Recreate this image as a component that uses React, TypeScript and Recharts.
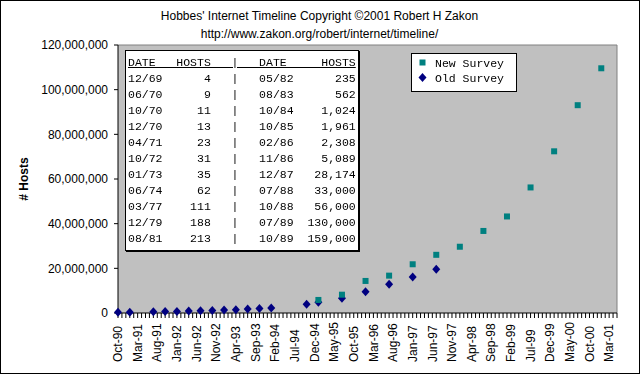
import React from 'react';
import {
  ScatterChart,
  Scatter,
  XAxis,
  YAxis,
  CartesianGrid,
  ReferenceLine,
  Legend,
} from 'recharts';

// hosts counted by the old and new ISC survey methods
const oldDates = [
  'Oct-90', 'Jan-91', 'Jul-91', 'Oct-91', 'Jan-92', 'Apr-92', 'Jul-92', 'Oct-92', 'Jan-93', 'Apr-93',
  'Jul-93', 'Oct-93', 'Jan-94', 'Oct-94', 'Jan-95', 'Jul-95', 'Jan-96', 'Jul-96', 'Jan-97', 'Jul-97',
];
const oldHosts = [
  313000, 376000, 535000, 617000, 727000, 890000, 992000, 1136000, 1313000, 1486000,
  1776000, 2056000, 2217000, 3864000, 4852000, 6642000, 9472000, 12881000, 16146000, 19540000,
];
const newDates = [
  'Jan-95', 'Jul-95', 'Jan-96', 'Jul-96', 'Jan-97', 'Jul-97', 'Jan-98', 'Jul-98', 'Jan-99', 'Jul-99',
  'Jan-00', 'Jul-00', 'Jan-01',
];
const newHosts = [
  5846000, 8200000, 14352000, 16729000, 21819000, 26053000, 29670000, 36739000, 43230000, 56218000,
  72398092, 93047785, 109574429,
];

const xTickLabels = [
  'Oct-90', 'Mar-91', 'Aug-91', 'Jan-92', 'Jun-92', 'Nov-92', 'Apr-93', 'Sep-93', 'Feb-94', 'Jul-94',
  'Dec-94', 'May-95', 'Oct-95', 'Mar-96', 'Aug-96', 'Jan-97', 'Jun-97', 'Nov-97', 'Apr-98', 'Sep-98',
  'Feb-99', 'Jul-99', 'Dec-99', 'May-00', 'Oct-00', 'Mar-01',
];
const yTicks = [0, 20000000, 40000000, 60000000, 80000000, 100000000, 120000000];

// inset table of early host counts
const earlyDates = ['12/69', '06/70', '10/70', '12/70', '04/71', '10/72', '01/73', '06/74', '03/77', '12/79', '08/81'];
const earlyHosts = [4, 9, 11, 13, 23, 31, 35, 62, 111, 188, 213];
const laterDates = ['05/82', '08/83', '10/84', '10/85', '02/86', '11/86', '12/87', '07/88', '10/88', '07/89', '10/89'];
const laterHosts = [235, 562, 1024, 1961, 2308, 5089, 28174, 33000, 56000, 130000, 159000];

const legendOrder = ['New Survey', 'Old Survey'];

const MONTHS = ['Jan', 'Feb', 'Mar', 'Apr', 'May', 'Jun', 'Jul', 'Aug', 'Sep', 'Oct', 'Nov', 'Dec'];
// months since Oct-90
const monthIndex = (label: string) => {
  const [m, yy] = label.split('-');
  const n = Number(yy);
  const year = n >= 50 ? 1900 + n : 2000 + n;
  return (year - 1990) * 12 + MONTHS.indexOf(m) - 9;
};

const X_MAX = 127;
const monthTicks = Array.from({ length: X_MAX + 1 }, (_, i) => i);
const labelAt: Record<number, string> = {};
xTickLabels.forEach((l) => (labelAt[monthIndex(l)] = l));

const oldData = oldDates.map((d, i) => ({ x: monthIndex(d), y: oldHosts[i] }));
const newData = newDates.map((d, i) => ({ x: monthIndex(d), y: newHosts[i] }));

const SANS = "'Liberation Sans', Arial, sans-serif";
const MONO = "'Liberation Mono', 'Courier New', monospace";
const TEAL = '#008080';
const NAVY = '#000080';

const fmt = (v: number) => v.toLocaleString('en-US');

const tableLines = [
  'DATE   HOSTS   |   DATE     HOSTS',
  ...earlyDates.map(
    (d, i) =>
      d + String(earlyHosts[i]).padStart(7) + '   |   ' + laterDates[i] + fmt(laterHosts[i]).padStart(9)
  ),
];

function Square({ cx, cy }: any) {
  return <rect x={cx - 3} y={cy - 3} width={6} height={6} fill={TEAL} />;
}

function Diamond({ cx, cy }: any) {
  return <polygon points={`${cx},${cy - 4.5} ${cx + 4},${cy} ${cx},${cy + 4.5} ${cx - 4},${cy}`} fill={NAVY} />;
}

function XTick({ x, y, payload }: any) {
  const label = labelAt[payload.value];
  if (!label) return null;
  const by = 362;
  return (
    <text
      x={x}
      y={by}
      dy="0.35em"
      transform={`rotate(-90, ${x}, ${by})`}
      textAnchor="start"
      fontSize={12}
      fontFamily={SANS}
      fill="#000"
    >
      {label}
    </text>
  );
}

function LegendBox({ payload }: any) {
  const items = [...(payload || [])].sort(
    (a: any, b: any) => legendOrder.indexOf(a.value) - legendOrder.indexOf(b.value)
  );
  return (
    <div
      style={{
        width: 106,
        height: 39,
        boxSizing: 'border-box',
        border: '1px solid #000',
        background: '#fff',
        paddingTop: 2,
        fontFamily: MONO,
        fontSize: 11.5,
        color: '#000',
      }}
    >
      {items.map((it: any) => (
        <div key={it.value} style={{ position: 'relative', height: 15, lineHeight: '15px', paddingLeft: 23, whiteSpace: 'pre' }}>
          <svg width={9} height={9} style={{ position: 'absolute', left: 6, top: 2.1 }}>
            {it.value === 'New Survey' ? (
              <rect x={1.5} y={1.5} width={6} height={6} fill={TEAL} />
            ) : (
              <polygon points="4.5,0 8.5,4.5 4.5,9 0.5,4.5" fill={NAVY} />
            )}
          </svg>
          <span style={{ display: 'inline-block', filter: 'grayscale(1)' }}>{it.value}</span>
        </div>
      ))}
    </div>
  );
}

export default function App() {
  return (
    <div style={{ position: 'absolute', left: 0, top: 0, width: 641, height: 375, background: '#fff', fontFamily: SANS }}>
      <ScatterChart width={641} height={375} margin={{ top: 45, right: 24, bottom: 0, left: 0 }}>
        <CartesianGrid fill="#C0C0C0" horizontal={false} vertical={false} />
        <XAxis
          type="number"
          dataKey="x"
          domain={[0, X_MAX]}
          ticks={monthTicks}
          interval={0}
          height={62}
          tickSize={5}
          axisLine={{ stroke: '#000' }}
          tickLine={{ stroke: '#000' }}
          tick={<XTick />}
        />
        <YAxis
          type="number"
          dataKey="y"
          domain={[0, 120000000]}
          ticks={yTicks}
          interval={0}
          width={118}
          tickSize={4}
          tickMargin={6}
          tickFormatter={fmt}
          axisLine={{ stroke: '#000' }}
          tickLine={{ stroke: '#000' }}
          tick={{ fill: '#000', fontSize: 12, fontFamily: SANS }}
          label={{
            value: '# Hosts',
            angle: -90,
            position: 'insideLeft',
            offset: 24,
            style: { textAnchor: 'middle', fontWeight: 'bold', fontSize: 12, fontFamily: SANS, fill: '#000' },
          }}
        />
        <ReferenceLine y={120000000} stroke="#808080" />
        <ReferenceLine x={X_MAX} stroke="#808080" />
        <Legend
          layout="vertical"
          align="center"
          verticalAlign="middle"
          content={<LegendBox />}
          wrapperStyle={{ left: 411, top: 53, width: 106, height: 39 }}
        />
        <Scatter name="Old Survey" data={oldData} fill={NAVY} shape={<Diamond />} isAnimationActive={false} />
        <Scatter name="New Survey" data={newData} fill={TEAL} shape={<Square />} isAnimationActive={false} />
      </ScatterChart>

      <div style={{ position: 'absolute', left: 0, top: 7, width: 639, textAlign: 'center', fontSize: 12, lineHeight: '18px', color: '#000' }}>
        <div>Hobbes' Internet Timeline Copyright ©2001 Robert H Zakon</div>
        <div>http://www.zakon.org/robert/internet/timeline/</div>
      </div>

      <div
        style={{
          position: 'absolute',
          left: 125,
          top: 50,
          width: 234,
          height: 201,
          boxSizing: 'border-box',
          border: '1px solid #000',
          boxShadow: '1px 1px 0 #000',
          background: '#fff',
          padding: '4px 0 0 2px',
          fontFamily: MONO,
          fontSize: 11.5,
          lineHeight: '16px',
          whiteSpace: 'pre',
          color: '#000',
          filter: 'grayscale(1)',
        }}
      >
        {tableLines.map((line, i) => (
          <div key={i} style={i === 0 ? { textDecoration: 'underline' } : undefined}>
            {line}
          </div>
        ))}
      </div>

      <div style={{ position: 'absolute', left: 0, top: 0, width: 640, height: 374, boxSizing: 'border-box', border: '1px solid #000', pointerEvents: 'none' }} />
    </div>
  );
}
